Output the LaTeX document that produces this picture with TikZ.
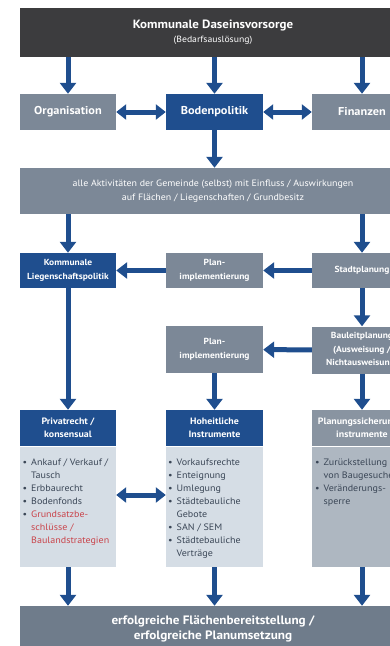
\documentclass[tikz,border=0pt]{standalone}
\usepackage{fontspec}
\setmainfont{PT Sans}[FakeStretch=1.08]
\usetikzlibrary{arrows.meta}
\definecolor{cdark}{HTML}{3C3C3E}
\definecolor{cgrey}{HTML}{7C8897}
\definecolor{cgreyb}{HTML}{6F7C8B}
\definecolor{cgreyh}{HTML}{8994A1}
\definecolor{cblue}{HTML}{1F4E8E}
\definecolor{clight}{HTML}{D5DDE5}
\definecolor{cmid}{HTML}{AEB7C1}
\definecolor{cred}{HTML}{C9444B}
\definecolor{ctext}{HTML}{3A4656}
\newcommand\blist[1]{\begin{tabular}{@{}p{8.5pt}@{}l@{}}#1\end{tabular}}
\tikzset{
  boxbase/.style={rectangle, inner sep=0pt, align=center, text=white,
    font=\bfseries\fontsize{8.8}{14.2}\selectfont},
  greybox/.style={boxbase, fill=cgrey},
  bluebox/.style={boxbase, fill=cblue},
  biglabel/.style={font=\bfseries\fontsize{11.4}{13}\selectfont},
  arr/.style={draw=cblue, line width=5pt, -{Triangle[width=16pt,length=11pt]}},
  darr/.style={draw=cblue, line width=5pt, {Triangle[width=15pt,length=10pt]}-{Triangle[width=15pt,length=10pt]}},
  bodytext/.style={anchor=north west, inner sep=0pt,
    font=\fontsize{9.3}{13}\selectfont, text=ctext},
}
\begin{document}
\begin{tikzpicture}[x=1pt,y=-1pt]
\useasboundingbox (0,0) rectangle (390,646);
\clip (0,0) rectangle (390,646);
% top
\node[boxbase, fill=cdark, minimum width=386pt, minimum height=49pt] (top) at (213,32.5)
  {{\fontsize{12}{14}\selectfont Kommunale Daseinsvorsorge}\\[-0.5pt]{\mdseries\fontsize{9}{10}\selectfont (Bedarfsauslösung)}};
% row 1
\node[greybox, biglabel, minimum width=96pt, minimum height=36pt] (org) at (68,112) {Organisation};
\node[bluebox, biglabel, minimum width=97pt, minimum height=36pt] (bod) at (214.5,112) {Bodenpolitik};
\node[greybox, biglabel, minimum width=100pt, minimum height=36pt] (fin) at (362,112) {Finanzen};
% activities
\node[greybox, minimum width=386pt, minimum height=46pt, font=\fontsize{9.2}{14}\selectfont] (all) at (213,191)
  {alle Aktivitäten der Gemeinde (selbst) mit Einfluss / Auswirkungen\\auf Flächen / Liegenschaften / Grundbesitz};
% row 2
\node[bluebox, minimum width=96pt, minimum height=35pt] (kl) at (68,270.5) {Kommunale\\Liegenschaftspolitik};
\node[greybox, minimum width=97pt, minimum height=35pt] (pi1) at (214.5,270.5) {Plan-\\implementierung};
\node[greybox, minimum width=100pt, minimum height=35pt] (sp) at (362,270.5) {Stadtplanung};
% row 3
\node[greybox, minimum width=97pt, minimum height=47pt] (pi2) at (214.5,349.5) {Plan-\\implementierung};
\node[greybox, minimum width=100pt, minimum height=47pt, font=\bfseries\fontsize{8.8}{13.5}\selectfont] (bl) at (362,350) {Bauleitplanung\\(Ausweisung /\\Nichtausweisung)};
% headers
\node[bluebox, minimum width=96pt, minimum height=36pt, font=\bfseries\fontsize{9.2}{13.5}\selectfont] (h1) at (68,428) {Privatrecht /\\konsensual};
\node[bluebox, minimum width=97pt, minimum height=36pt, font=\bfseries\fontsize{9.2}{13.5}\selectfont] (h2) at (214.5,428) {Hoheitliche\\Instrumente};
\node[boxbase, fill=cgreyh, minimum width=100pt, minimum height=36pt, font=\bfseries\fontsize{9.2}{13.5}\selectfont] (h3) at (362,428) {Planungssicherungs-\\instrumente};
% bodies
\node[fill=clight, minimum width=96pt, minimum height=120pt, inner sep=0pt] (b1) at (68,507) {};
\node[fill=clight, minimum width=97pt, minimum height=120pt, inner sep=0pt] (b2) at (214.5,507) {};
\node[fill=cmid, minimum width=100pt, minimum height=120pt, inner sep=0pt] (b3) at (362,507) {};
\node[bodytext] (t1) at (22.5,456) {\blist{%
  \textbullet & Ankauf / Verkauf /\\
   & Tausch\\
  \textbullet & Erbbaurecht\\
  \textbullet & Bodenfonds\\
  \textbullet & \textcolor{cred}{Grundsatzbe-}\\
   & \textcolor{cred}{schlüsse /}\\
   & \textcolor{cred}{Baulandstrategien}}};
\node[bodytext] (t2) at (168,456) {\blist{%
  \textbullet & Vorkaufsrechte\\
  \textbullet & Enteignung\\
  \textbullet & Umlegung\\
  \textbullet & Städtebauliche\\
   & Gebote\\
  \textbullet & SAN / SEM\\
  \textbullet & Städtebauliche\\
   & Verträge}};
\node[bodytext] (t3) at (315,456) {\blist{%
  \textbullet & Zurückstellung\\
   & von Baugesuchen\\
  \textbullet & Veränderungs-\\
   & sperre}};
% bottom
\node[boxbase, fill=cgreyb, minimum width=386pt, minimum height=46pt, font=\bfseries\fontsize{12.2}{15.5}\selectfont] (bot) at (213,629)
  {erfolgreiche Flächenbereitstellung /\\erfolgreiche Planumsetzung};
% arrows
\draw[arr] (top.south -| org.north) -- (org.north);
\draw[arr] (top.south -| bod.north) -- (bod.north);
\draw[arr] (top.south -| fin.north) -- (fin.north);
\draw[darr] (org) -- (bod);
\draw[darr] (bod) -- (fin);
\draw[arr] (bod.south) -- (bod.south |- all.north);
\draw[arr] (all.south -| kl.north) -- (kl.north);
\draw[arr] (all.south -| sp.north) -- (sp.north);
\draw[arr] (sp) -- (pi1);
\draw[arr] (pi1) -- (kl);
\draw[arr] (sp.south) -- (bl.north);
\draw[arr] (bl) -- (pi2);
\draw[arr] (kl.south) -- (h1.north);
\draw[arr] (pi2.south) -- (h2.north);
\draw[arr] (bl.south) -- (h3.north);
\draw[darr] (b1.east |- 0,495) -- (b2.west |- 0,495);
\draw[arr] (b1.south) -- (b1.south |- bot.north);
\draw[arr] (b2.south) -- (b2.south |- bot.north);
\draw[arr] (b3.south) -- (b3.south |- bot.north);
\end{tikzpicture}
\end{document}
